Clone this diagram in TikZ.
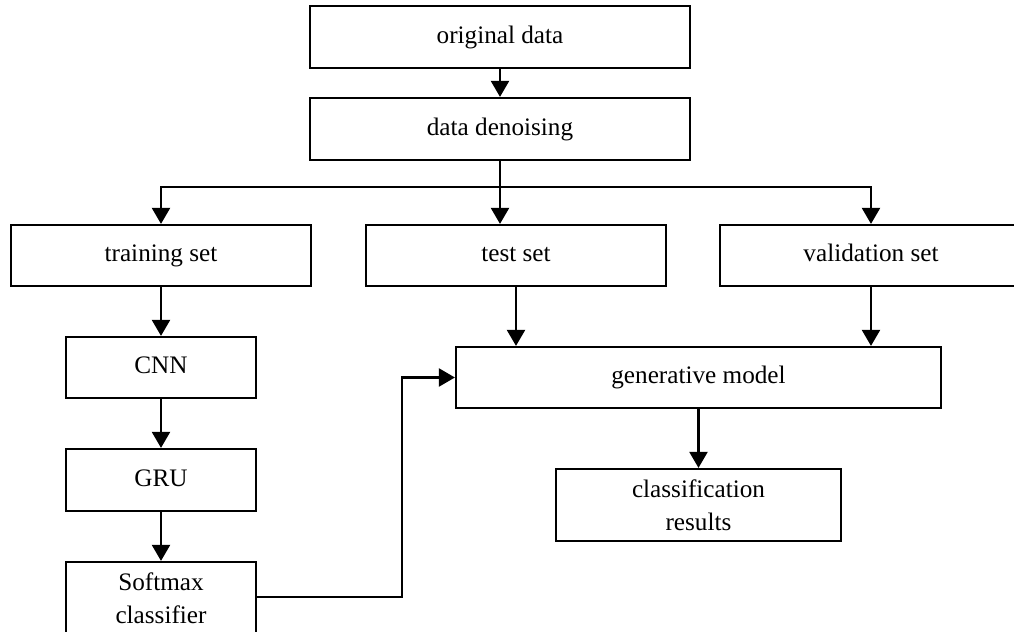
\documentclass[tikz,border=0pt]{standalone}
\usepackage{fontspec}
\setmainfont{Liberation Serif}
\usetikzlibrary{arrows.meta}

\begin{document}
\begin{tikzpicture}[
		x=0.5pt, y=-0.5pt,
		line width=1.1pt,
		>={Triangle[length=8pt, width=9pt]},
		every node/.style={rectangle, draw, line width=1.1pt, inner sep=0pt, align=center,
			font=\fontsize{12.6pt}{16.5pt}\selectfont},
		oneline/.style={text height=0.82em, text depth=0.2em}
	]
  \useasboundingbox (0,0) rectangle (1014,632);
  \node (orig) [oneline, minimum width=190pt, minimum height=31pt] at (500, 37) {original data};
  \node (denoise) [oneline, minimum width=190pt, minimum height=31pt] at (500, 129) {data denoising};
  \node (train) [oneline, minimum width=150pt, minimum height=30.5pt] at (161, 255.5) {training set};
  \node (test) [oneline, minimum width=150pt, minimum height=30.5pt] at (516, 255.5) {test set};
  \node (valid) [oneline, minimum width=151pt, minimum height=30.5pt] at (871, 255.5) {validation set};
  \node (cnn) [oneline, minimum width=95pt, minimum height=30.5pt] at (161, 367.5) {CNN};
  \node (gru) [oneline, minimum width=95pt, minimum height=31pt] at (161, 480) {GRU};
  \node (softmax) [minimum width=95pt, minimum height=36pt] at (161, 598) {Softmax\\classifier};
  \node (gen) [oneline, minimum width=242.5pt, minimum height=30.5pt] at (698.5, 377.5) {generative model};
  \node (result) [minimum width=142.5pt, minimum height=36pt] at (698.5, 505) {classification\\results};
  \coordinate (split) at (500, 187);
  \coordinate (turn) at (402, 597);
  \draw[->] (orig) -- (denoise);
  \draw (denoise) -- (split);
  \draw[->] (split) -| (train);
  \draw[->] (split) -- (split |- test.north);
  \draw[->] (split) -| (valid);
  \draw[->] (train) -- (cnn);
  \draw[->] (cnn) -- (gru);
  \draw[->] (gru) -- (softmax);
  \draw[->] (test) -- (test |- gen.north);
  \draw[->] (valid) -- (valid |- gen.north);
  \draw[->] (softmax.east |- turn) -- (turn) |- (gen);
  \draw[->] (gen) -- (result);
\end{tikzpicture}
\end{document}
